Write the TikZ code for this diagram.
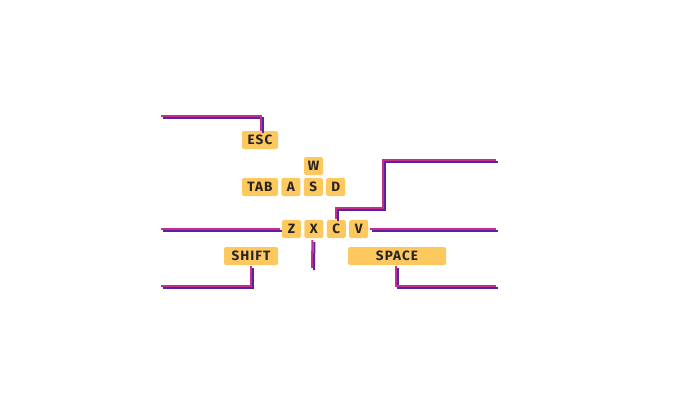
\documentclass[tikz,border=0pt]{standalone}
\usepackage{fontspec}
\newfontfamily\keyfont[LetterSpace=8]{Fira Sans}
\usetikzlibrary{positioning,calc}
\definecolor{keyfill}{RGB}{253,201,94}
\definecolor{keytext}{RGB}{40,36,38}
\definecolor{wmagenta}{RGB}{196,46,140}
\definecolor{wpurple}{RGB}{91,33,160}

\begin{document}
\begin{tikzpicture}[
  x=1pt, y=-1pt,
  font=\keyfont\fontsize{13.5}{13.5}\selectfont\bfseries,
  key/.style={fill=keyfill, rounded corners=2pt, minimum width=#1, minimum height=18pt, inner sep=0pt, text=keytext, anchor=center},
  key/.default=19pt,
  wire/.style={draw=wmagenta, line width=2pt,
    preaction={draw=wpurple, line width=2pt, transform canvas={xshift=2pt,yshift=-2pt}}}
]
\useasboundingbox (0,0) rectangle (675,400);

% Keys
\node[key=36pt] (esc) at (260,140) {ESC};
\node[key] (kw) at (313.5,166) {W};
\node[key=36pt] (tab) at (260,187) {TAB};
\node[key, right=3pt of tab] (ka) {A};
\node[key, right=3pt of ka] (ks) {S};
\node[key, right=3pt of ks] (kd) {D};
\node[key] (kz) at (291.5,229) {Z};
\node[key, right=3pt of kz] (kx) {X};
\node[key, right=3pt of kx] (kc) {C};
\node[key, right=3pt of kc] (kv) {V};
\node[key=54pt] (shift) at (251,256) {SHIFT};
\node[key=98pt] (space) at (397,256) {SPACE};

% Free ends
\coordinate (escend) at (161,116);
\coordinate (zend) at (161,229);
\coordinate (xend) at (312,268);
\coordinate (shiftend) at (161,286);
\coordinate (cend) at (496,160);
\coordinate (vend) at (496,229);
\coordinate (spaceend) at (496,286);

% Wires
\draw[wire] (escend) -| ([xshift=1pt]esc.north);
\draw[wire] (zend) -- ([xshift=-2pt]kz.west);
\draw[wire] ([xshift=-1.5pt,yshift=-2pt]kx.south) -- (xend);
\draw[wire] ([yshift=-1pt]shift.south) |- (shiftend);
\draw[wire] ([yshift=1pt]kc.north) |- (383,208) |- (cend);
\draw[wire] ([xshift=2pt]kv.east) -- (vend);
\draw[wire] ([xshift=-1pt,yshift=-1pt]space.south) |- (spaceend);

\end{tikzpicture}
\end{document}
